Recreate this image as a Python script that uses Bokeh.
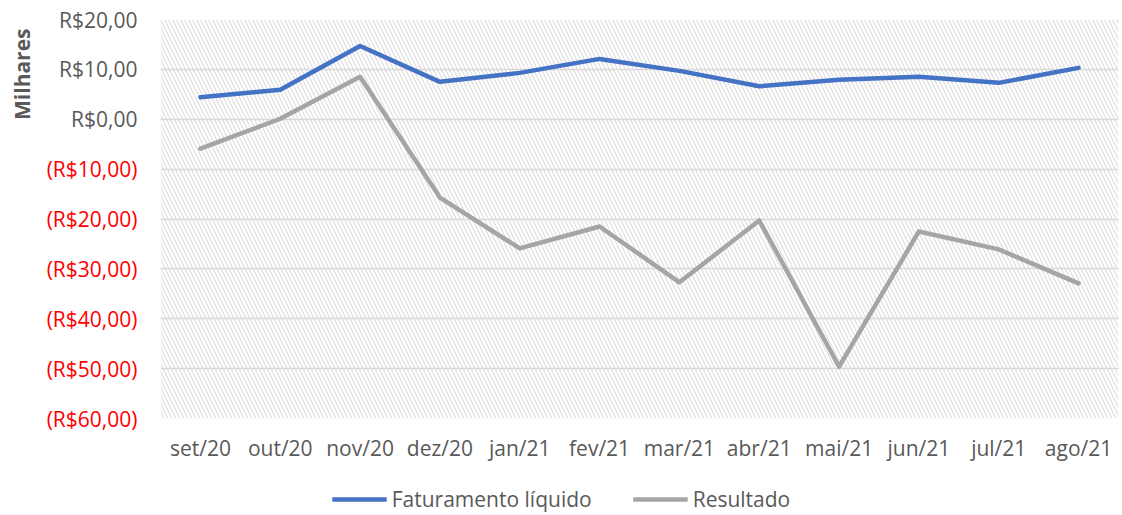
from bokeh.plotting import figure
from bokeh.layouts import row, column
from bokeh.models import (Range1d, FixedTicker, BoxAnnotation, Legend, LegendItem,
                          ColumnDataSource)
from bokeh.core.properties import value
from bokeh.embed import file_html
from bokeh.resources import INLINE
import math

months = ["set/20", "out/20", "nov/20", "dez/20", "jan/21", "fev/21",
          "mar/21", "abr/21", "mai/21", "jun/21", "jul/21", "ago/21"]
faturamento = [4.4, 5.9, 14.7, 7.5, 9.3, 12.1, 9.7, 6.6, 7.9, 8.5, 7.3, 10.3]
resultado = [-5.9, 0.1, 8.5, -15.7, -25.9, -21.5, -32.7, -20.3, -49.6, -22.5, -26.1, -32.9]
y_ticks = [20, 10, 0, -10, -20, -30, -40, -50, -60]
y_labels = ["R$20,00", "R$10,00", "R$0,00", "(R$10,00)", "(R$20,00)", "(R$30,00)",
            "(R$40,00)", "(R$50,00)", "(R$60,00)"]
y_title = "Milhares"
series_names = ["Faturamento líquido", "Resultado"]
series_colors = ["#4472C4", "#A5A5A5"]

FONT = "Open Sans"
FS = "21px"
GRAY_TXT = "#595959"
RED = "#FF0000"
LBL_GAP = 23
LINE_W = 4.5

# layout (pixels)
TOTAL_W = 1122
LEFT_W = 160
MAIN_W = TOTAL_W - LEFT_W
TOP = 19
FRAME_H = 399
CHART_H = 465
BOTTOM = CHART_H - TOP - FRAME_H
LEG_H = 50

x_idx = list(range(len(months)))
ymin, ymax = min(y_ticks), max(y_ticks)

# ---------- left strip: value axis labels + units title ----------
left = figure(width=LEFT_W, height=CHART_H, output_backend="svg",
              toolbar_location=None, x_range=Range1d(0, 1),
              y_range=Range1d(ymin, ymax),
              x_axis_location=None, y_axis_location=None, min_border=0)
try:
    # let the strip use its full height so edge labels are not clipped
    left.frame_align = False
    upp = (ymax - ymin) / FRAME_H  # same scale as the main plot
    left.y_range = Range1d(ymin - BOTTOM * upp, ymax + TOP * upp)
except AttributeError:
    pass
left.outline_line_color = None
left.grid.visible = False
lab_src = ColumnDataSource(dict(
    x=[1] * len(y_ticks), y=y_ticks, text=y_labels,
    color=[RED if t < 0 else GRAY_TXT for t in y_ticks]))
left.text(x="x", y="y", text="text", source=lab_src, text_color="color",
          text_align="right", text_baseline="middle", x_offset=-LBL_GAP,
          text_font=value(FONT), text_font_size=FS)
left.text(x=[0], y=[ymax], text=[y_title], angle=math.pi / 2,
          text_align="right", text_baseline="middle", x_offset=21, y_offset=9,
          text_font=value(FONT), text_font_size="21px", text_font_style="bold",
          text_color=GRAY_TXT)

# ---------- main plot ----------
p = figure(width=MAIN_W, height=CHART_H, output_backend="svg",
           toolbar_location=None,
           x_range=Range1d(-0.5, len(months) - 0.5), y_range=Range1d(ymin, ymax),
           min_border_left=0, min_border_top=TOP, min_border_bottom=BOTTOM,
           min_border_right=4)
p.outline_line_color = None
p.background_fill_color = "white"
p.yaxis.visible = False

bg = BoxAnnotation(fill_alpha=0, line_color=None, hatch_pattern="\\",
                   hatch_color="#DEDEDE", hatch_scale=8, hatch_weight=1.2,
                   level="image")
p.add_layout(bg)

p.xgrid.grid_line_color = None
p.ygrid.ticker = FixedTicker(ticks=y_ticks)
p.ygrid.grid_line_color = "#D9D9D9"
p.ygrid.grid_line_width = 1.5

p.xaxis.ticker = FixedTicker(ticks=x_idx)
p.xaxis.major_label_overrides = {i: m for i, m in enumerate(months)}
p.xaxis.axis_line_color = None
p.xaxis.major_tick_line_color = None
p.xaxis.minor_tick_line_color = None
p.xaxis.major_tick_in = 0
p.xaxis.major_tick_out = 0
p.xaxis.major_label_text_font = FONT
p.xaxis.major_label_text_font_size = FS
p.xaxis.major_label_text_color = GRAY_TXT
p.xaxis.major_label_standoff = 15

for ys, col in zip([faturamento, resultado], series_colors):
    p.line(x_idx, ys, line_color=col, line_width=LINE_W,
           line_join="round", line_cap="round")

# ---------- legend strip ----------
leg = figure(width=TOTAL_W, height=LEG_H, output_backend="svg",
             toolbar_location=None, x_range=Range1d(0, 1), y_range=Range1d(0, 1),
             x_axis_location=None, y_axis_location=None, min_border=0)
leg.outline_line_color = None
leg.grid.visible = False
items = []
for name, col in zip(series_names, series_colors):
    # proxy renderer carrying only the style (no visible data)
    r = leg.line(x=[float("nan")], y=[float("nan")], line_color=col,
                 line_width=LINE_W)
    items.append(LegendItem(label=name, renderers=[r]))
legend = Legend(items=items, orientation="horizontal", location="bottom_center",
                glyph_width=55, glyph_height=20, label_standoff=5, spacing=41,
                padding=0, margin=2, border_line_color=None,
                background_fill_alpha=0,
                label_text_font=FONT, label_text_font_size=FS,
                label_text_color=GRAY_TXT)
leg.add_layout(legend, "center")

layout = column(row(left, p), leg)
open("out.html", "w").write(file_html(layout, INLINE))
